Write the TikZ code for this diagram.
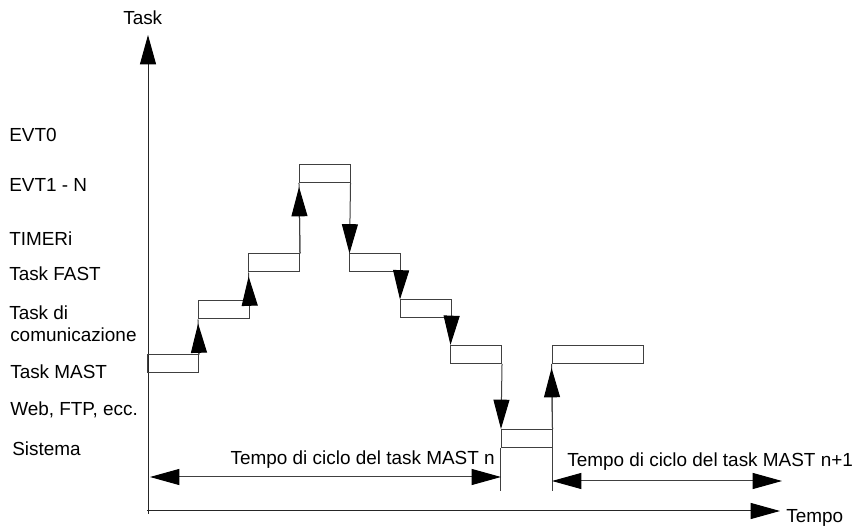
\documentclass[tikz,border=0pt]{standalone}
\usepackage{fontspec}
\setmainfont{Liberation Sans}
\usetikzlibrary{arrows.meta, positioning}

\begin{document}
\begin{tikzpicture}[x=0.75pt, y=-0.75pt, font=\fontsize{14.2}{16}\selectfont,
  >={Triangle[length=22pt, width=12pt, color=black]},
  slot/.style  = {draw=black!75, line width=0.75pt, minimum width=37.9pt,
                  minimum height=13.5pt, inner sep=0pt},
  lbl/.style   = {anchor=base west, inner sep=0pt},
  link/.style  = {draw=black!75, line width=0.75pt},
  rise/.style  = {link, postaction={draw=black!75, ->, shorten >=3pt}},
  fall/.style  = {link, ->},
  axis/.style  = {draw=black!85, line width=0.75pt}
]
  \useasboundingbox (0,0) rectangle (854,530);

  %% axes
  \coordinate (o)    at (148,514);
  \coordinate (ytip) at (148,35);
  \coordinate (x0)   at (147,511);
  \coordinate (xtip) at (780,511);
  \draw[axis, ->] (o) -- (ytip);
  \draw[axis, ->] (x0) -- (xtip);
  \node[lbl] (tasklbl)  at (123,25)  {Task};
  \node[lbl] (tempolbl) at (786,523) {Tempo};

  %% task levels
  \node[lbl] (evt0)  at (9,142)  {EVT0};
  \node[lbl] (evt1)  at (9,192)  {EVT1 - N};
  \node[lbl] (timer) at (9,246)  {TIMERi};
  \node[lbl] (fast)  at (9,281)  {Task FAST};
  \node[lbl] (comm)  at (9,320)  {Task di};
  \node[lbl] (comm2) at (10,342) {comunicazione};
  \node[lbl] (mast)  at (10,379) {Task MAST};
  \node[lbl] (web)   at (10,416) {Web, FTP, ecc.};
  \node[lbl] (sist)  at (12,456) {Sistema};

  %% execution slots
  \node[slot] (mastA) at (173.25,364)   {};
  \node[slot] (commA) at (223.75,310)   {};
  \node[slot] (fastA) at (274.25,263)   {};
  \node[slot] (evtA)  at (324.75,173.5) {};
  \node[slot] (fastB) at (375.25,263)   {};
  \node[slot] (commB) at (425.75,309)   {};
  \node[slot] (mastB) at (476.25,354.5) {};
  \node[slot] (sysA)  at (526.75,438.5) {};
  \node[slot, minimum width=68.25pt] (mastC) at (597.5,354.5) {};

  %% preemption (up) and return (down)
  \draw[rise] (mastA.north east) -- (commA.south west);
  \draw[rise] (commA.north east) -- (fastA.south west);
  \draw[rise] (fastA.north east) -- (evtA.south west);
  \draw[fall] (evtA.south east)  -- (fastB.north west);
  \draw[fall] (fastB.south east) -- (commB.north west);
  \draw[fall] (commB.south east) -- (mastB.north west);
  \draw[fall] (mastB.south east) -- (sysA.north west);
  \draw[rise] (sysA.north east)  -- (mastC.south west);

  %% cycle boundaries
  \coordinate (base) at (0,491);
  \draw[link] (sysA.south west) -- (sysA.south west |- base);
  \draw[link] (sysA.south east) -- (sysA.south east |- base);

  %% cycle times
  \coordinate (n0) at (150,477);
  \coordinate (n1) at (sysA.south west |- n0);
  \coordinate (m0) at (552,481);
  \coordinate (m1) at (782,481);
  \draw[link, <->] (n0) -- (n1);
  \draw[link, <->] (m0) -- (m1);
  \node[anchor=base east, inner sep=0pt] (cyclen) at (495,465) {Tempo di ciclo del task MAST n};
  \node[lbl] (cyclem) at (567,467) {Tempo di ciclo del task MAST n+1};
\end{tikzpicture}
\end{document}
